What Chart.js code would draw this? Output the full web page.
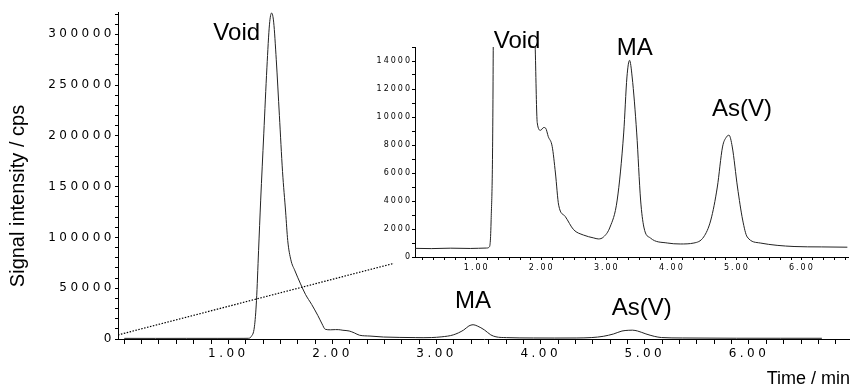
<!DOCTYPE html>
<html>
<head>
<meta charset="utf-8">
<script src="https://cdn.jsdelivr.net/npm/chart.js@4.4.1/dist/chart.umd.min.js"></script>
<style>
  html, body { margin: 0; padding: 0; background: #fff; }
  #wrap { position: relative; width: 850px; height: 390px; overflow: hidden; }
  #main { position: absolute; left: 0; top: 0; }
  #inset { position: absolute; left: 360px; top: 20px; }
</style>
</head>
<body>
<div id="wrap">
  <canvas id="main" width="850" height="390"></canvas>
  <canvas id="inset" width="490" height="260"></canvas>
</div>
<script>
// chromatogram (time in min, signal in cps)
const timeMin = [0.00, 0.30, 0.60, 0.90, 1.15, 1.19, 1.22, 1.25, 1.27, 1.29, 1.31, 1.34, 1.37, 1.395, 1.415,
  1.435, 1.46, 1.49, 1.52, 1.55, 1.57, 1.60, 1.64, 1.69, 1.74, 1.80, 1.86, 1.90, 1.93, 1.98, 2.03, 2.06,
  2.10, 2.16, 2.21, 2.26, 2.36, 2.49, 2.64, 2.80, 2.87, 2.95, 3.05, 3.16, 3.26, 3.31, 3.35, 3.39, 3.46,
  3.52, 3.57, 3.67, 3.93, 4.13, 4.34, 4.49, 4.60, 4.70, 4.78, 4.84, 4.88, 4.93, 5.01, 5.09, 5.16, 5.36,
  5.88, 6.30, 6.70];
const signalCps = [620, 600, 630, 610, 640, 700, 2500, 12000, 38000, 87000, 136000, 202000, 267000, 310000, 321000,
  312000, 275000, 220000, 165000, 125000, 97000, 78000, 67000, 55000, 44000, 34000, 23000, 14800, 9600, 9050, 9250, 9200,
  8600, 7900, 6000, 3700, 2900, 1950, 1570, 1360, 1290, 1430, 2140, 4070, 8860, 12860, 14050, 12860, 8860,
  4070, 2140, 1360, 1000, 930, 1000, 1430, 2640, 5000, 7860, 8570, 8700, 7860, 5000, 2640, 1430, 1000,
  750, 720, 700];

// dotted guide line from the main trace to the inset
const zoomTime = [-0.06, 2.59];
const zoomCps = [4000, 74500];

const peakNames = ['Void', 'MA', 'As(V)'];
const mainLabelTime = [1.08, 3.35, 4.97];
const mainLabelCps = [294000, 31000, 23500];
const insetLabelTime = [1.62, 3.43, 5.08];
const insetLabelCps = [14900, 14400, 10100];

const trace = timeMin.map((t, i) => ({ x: t, y: signalCps[i] }));
const zoomLine = zoomTime.map((t, i) => ({ x: t, y: zoomCps[i] }));

const isWhole = v => Math.abs(v - Math.round(v)) < 1e-6;

function xAxis(min, max, size, tickLen, pad, height) {
  return {
    type: 'linear',
    min: min,
    max: max,
    afterBuildTicks: s => {
      const t = [];
      for (let i = Math.ceil(min * 6 - 1e-6); i / 6 <= max + 1e-6; i++) t.push({ value: i / 6 });
      s.ticks = t;
    },
    afterFit: s => { s.height = height; },
    grid: { drawOnChartArea: false, tickLength: tickLen, color: '#000' },
    border: { color: '#000' },
    ticks: {
      autoSkip: false, maxRotation: 0, padding: pad, z: 1, color: '#000',
      font: { family: 'DejaVu Sans', size: size },
      callback: v => (isWhole(v) && v >= 1 && v <= 6) ? v.toFixed(2) : ''
    }
  };
}

function yAxis(max, step, every, size, tickLen, pad, width) {
  return {
    min: 0,
    max: max,
    afterBuildTicks: s => {
      const t = [];
      for (let v = 0; v <= max; v += step) t.push({ value: v });
      s.ticks = t;
    },
    afterFit: s => { s.width = width; },
    grid: { drawOnChartArea: false, tickLength: tickLen, color: '#000' },
    border: { color: '#000' },
    ticks: {
      autoSkip: false, padding: pad, z: 1, color: '#000',
      font: { family: 'DejaVu Sans', size: size },
      callback: v => (Math.round(v) % every === 0) ? String(Math.round(v)) : ''
    }
  };
}

function labelPlugin(spacing, labelTime, labelCps, extra) {
  return {
    id: 'labels',
    afterDatasetsDraw(chart) { chart.ctx.letterSpacing = spacing + 'px'; },
    afterDraw(chart) {
      const ctx = chart.ctx;
      ctx.letterSpacing = '0px';
      ctx.save();
      ctx.fillStyle = '#000';
      ctx.font = '24px "Liberation Sans", Arial, sans-serif';
      ctx.textAlign = 'center';
      ctx.textBaseline = 'alphabetic';
      peakNames.forEach((name, i) => {
        ctx.fillText(name, chart.scales.x.getPixelForValue(labelTime[i]),
          chart.scales.y.getPixelForValue(labelCps[i]));
      });
      ctx.restore();
      if (extra) extra(ctx);
    }
  };
}

Chart.defaults.color = '#000';

new Chart(document.getElementById('main'), {
  type: 'line',
  data: {
    datasets: [
      { data: trace, borderColor: '#222', borderWidth: 1, pointRadius: 0, cubicInterpolationMode: 'monotone' },
      { data: zoomLine, borderColor: '#000', borderWidth: 1.2, borderDash: [1.5, 1.5], pointRadius: 0 }
    ]
  },
  options: {
    responsive: false,
    animation: false,
    layout: { padding: { top: 12, right: 0, left: 0, bottom: 0 } },
    plugins: { legend: { display: false }, tooltip: { enabled: false } },
    scales: {
      x: Object.assign(xAxis(-0.06, 6.97, 12, 5, 3, 51), {
        title: {
          display: true, text: 'Time / min', align: 'end', color: '#000',
          font: { family: 'Liberation Sans', size: 18 }, padding: { top: 0, bottom: 0 }
        }
      }),
      y: yAxis(322000, 10000, 50000, 12, 3, 0, 118)
    }
  },
  plugins: [labelPlugin(3.5, mainLabelTime, mainLabelCps, ctx => {
    ctx.save();
    ctx.translate(18, 196);
    ctx.rotate(-Math.PI / 2);
    ctx.fillStyle = '#000';
    ctx.font = '20px "Liberation Sans", Arial, sans-serif';
    ctx.textAlign = 'center';
    ctx.textBaseline = 'middle';
    ctx.fillText('Signal intensity / cps', 0, 0);
    ctx.restore();
  })]
});

new Chart(document.getElementById('inset'), {
  type: 'line',
  data: {
    datasets: [
      { data: trace, borderColor: '#222', borderWidth: 1, pointRadius: 0, cubicInterpolationMode: 'monotone' }
    ]
  },
  options: {
    responsive: false,
    animation: false,
    layout: { padding: { top: 27, right: 2, left: 0, bottom: 0 } },
    plugins: { legend: { display: false }, tooltip: { enabled: false } },
    scales: {
      x: xAxis(0.05, 6.71, 8, 3, 3, 23),
      y: yAxis(15000, 1000, 2000, 8, 3, 0, 55)
    }
  },
  plugins: [labelPlugin(2, insetLabelTime, insetLabelCps)]
});
</script>
</body>
</html>
